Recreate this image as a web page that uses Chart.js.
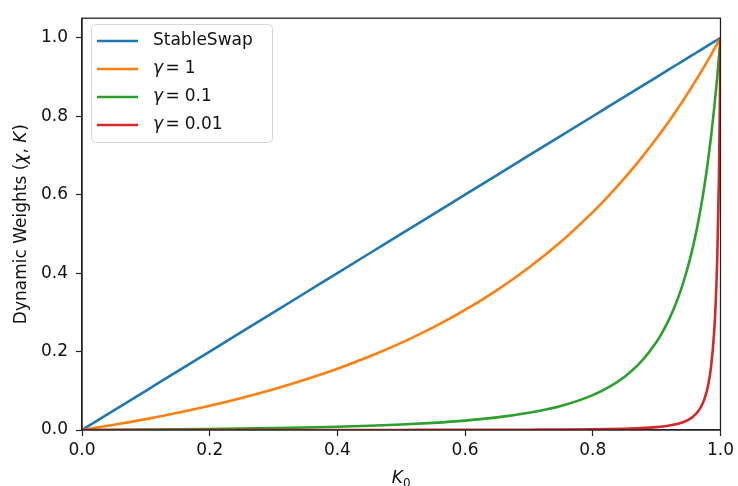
<!DOCTYPE html>
<html>
<head>
<meta charset="utf-8">
<script src="https://cdn.jsdelivr.net/npm/chart.js@4.4.1/dist/chart.umd.min.js"></script>
<style>
  html, body { margin: 0; padding: 0; background: #ffffff; }
  #wrap { width: 738px; height: 486px; }
</style>
</head>
<body>
<div id="wrap"><canvas id="c" width="738" height="486"></canvas></div>
<script>
// K0 sample positions (denser near 1 where the curves turn up sharply)
const k0 = [0, 0.05, 0.1, 0.15, 0.2, 0.25, 0.3, 0.35, 0.4, 0.45, 0.5, 0.55, 0.6, 0.65, 0.7, 0.75,
            0.8, 0.825, 0.85, 0.875, 0.9, 0.91, 0.92, 0.93, 0.94, 0.945, 0.95, 0.955, 0.96, 0.965,
            0.97, 0.975, 0.98, 0.985, 0.99, 0.9925, 0.995, 0.9975, 0.999, 1.0];

// Dynamic weight values for each curve
const stableSwap = [0, 0.05, 0.1, 0.15, 0.2, 0.25, 0.3, 0.35, 0.4, 0.45, 0.5, 0.55, 0.6, 0.65, 0.7, 0.75,
                    0.8, 0.825, 0.85, 0.875, 0.9, 0.91, 0.92, 0.93, 0.94, 0.945, 0.95, 0.955, 0.96, 0.965,
                    0.97, 0.975, 0.98, 0.985, 0.99, 0.9925, 0.995, 0.9975, 0.999, 1.0];
const gamma1 = [0, 0.0132, 0.0277, 0.0438, 0.0617, 0.0816, 0.1038, 0.1286, 0.1563, 0.1873, 0.2222,
                0.2616, 0.3061, 0.3567, 0.4142, 0.48, 0.5556, 0.5976, 0.6427, 0.6914, 0.7438, 0.7659,
                0.7888, 0.8123, 0.8366, 0.849, 0.8617, 0.8745, 0.8876, 0.9008, 0.9143, 0.928, 0.9419,
                0.9561, 0.9705, 0.9778, 0.9851, 0.9925, 0.997, 1.0];
const gamma01 = [0, 0.00045, 0.001, 0.00166, 0.00247, 0.00346, 0.00469, 0.00622, 0.00816, 0.01065,
                 0.01389, 0.01818, 0.024, 0.0321, 0.04375, 0.0612, 0.0889, 0.1091, 0.136, 0.1728, 0.225,
                 0.2521, 0.284, 0.3218, 0.367, 0.3933, 0.4222, 0.4542, 0.4898, 0.5295, 0.574, 0.624,
                 0.6806, 0.7448, 0.8182, 0.8588, 0.9025, 0.9494, 0.9793, 1.0];
const gamma001 = [0, 0.000005, 0.000012, 0.00002, 0.00003, 0.000043, 0.00006, 0.00008, 0.00011, 0.00014,
                  0.00019, 0.00026, 0.00036, 0.0005, 0.00073, 0.00111, 0.00181, 0.00241, 0.00332, 0.0048,
                  0.00744, 0.0091, 0.0114, 0.01453, 0.0192, 0.02237, 0.0264, 0.03157, 0.0384, 0.0477,
                  0.0606, 0.0796, 0.1089, 0.1576, 0.2475, 0.3241, 0.4422, 0.6384, 0.8256, 1.0];

const seriesNames = ['StableSwap', '1', '0.1', '0.01'];
const seriesColors = ['#1f77b4', '#ff7f0e', '#2ca02c', '#d62728'];
const seriesValues = [stableSwap, gamma1, gamma01, gamma001];

const xTicks = [0, 0.2, 0.4, 0.6, 0.8, 1.0];
const yTicks = [0, 0.2, 0.4, 0.6, 0.8, 1.0];

const FONT = '"DejaVu Sans", sans-serif';
const FS = 17;

const datasets = seriesValues.map((vals, i) => ({
  label: seriesNames[i],
  data: vals.map((v, j) => ({ x: k0[j], y: v })),
  borderColor: seriesColors[i],
  backgroundColor: seriesColors[i],
  borderWidth: 2.6,
  pointRadius: 0,
  cubicInterpolationMode: 'monotone',
  fill: false,
  order: seriesValues.length - i
}));

// Draws a run of text pieces, each with its own font, starting at x
function drawPieces(ctx, pieces, x, y) {
  let cx = x;
  pieces.forEach(p => {
    ctx.font = p.font;
    ctx.fillText(p.text, cx, y + (p.dy || 0));
    cx += ctx.measureText(p.text).width + (p.gap || 0);
  });
  return cx;
}
function piecesWidth(ctx, pieces) {
  let w = 0;
  pieces.forEach(p => { ctx.font = p.font; w += ctx.measureText(p.text).width + (p.gap || 0); });
  return w;
}

const decorations = {
  id: 'decorations',
  afterDatasetsDraw(chart) {
    const ctx = chart.ctx;
    const a = chart.chartArea;
    ctx.save();
    // axes frame
    ctx.strokeStyle = '#222222';
    ctx.lineWidth = 1.3;
    ctx.strokeRect(a.left, a.top, a.right - a.left, a.bottom - a.top);

    const normal = FS + 'px ' + FONT;
    const italic = 'italic ' + FS + 'px ' + FONT;
    ctx.fillStyle = '#111111';
    ctx.textBaseline = 'alphabetic';

    // x axis title: K0
    const xt = [
      { text: 'K', font: italic },
      { text: '0', font: '12px ' + FONT, dy: 4 }
    ];
    const xw = piecesWidth(ctx, xt);
    drawPieces(ctx, xt, (a.left + a.right) / 2 - xw / 2, 483);

    // y axis title: Dynamic Weights (χ, K)
    const yt = [
      { text: 'Dynamic Weights ', font: normal },
      { text: '(', font: normal },
      { text: 'χ', font: italic },
      { text: ', ', font: normal },
      { text: 'K', font: italic, gap: 1 },
      { text: ')', font: normal }
    ];
    ctx.save();
    ctx.translate(26, (a.top + a.bottom) / 2);
    ctx.rotate(-Math.PI / 2);
    const yw = piecesWidth(ctx, yt);
    drawPieces(ctx, yt, -yw / 2, 0);
    ctx.restore();

    // legend box
    const lx = 91.5, ly = 24.5, lw = 181, lh = 118, r = 4;
    ctx.beginPath();
    ctx.moveTo(lx + r, ly);
    ctx.arcTo(lx + lw, ly, lx + lw, ly + lh, r);
    ctx.arcTo(lx + lw, ly + lh, lx, ly + lh, r);
    ctx.arcTo(lx, ly + lh, lx, ly, r);
    ctx.arcTo(lx, ly, lx + lw, ly, r);
    ctx.closePath();
    ctx.fillStyle = 'rgba(255,255,255,0.8)';
    ctx.fill();
    ctx.strokeStyle = '#d6d6d6';
    ctx.lineWidth = 1;
    ctx.stroke();

    const rowY = [41, 69, 97, 125];
    seriesNames.forEach((name, i) => {
      const y = rowY[i];
      ctx.strokeStyle = seriesColors[i];
      ctx.lineWidth = 2.6;
      ctx.beginPath();
      ctx.moveTo(97, y);
      ctx.lineTo(138, y);
      ctx.stroke();
      ctx.fillStyle = '#111111';
      ctx.textBaseline = 'middle';
      if (i === 0) {
        ctx.font = normal;
        ctx.fillText(name, 153, y);
      } else {
        drawPieces(ctx, [
          { text: 'γ', font: italic, gap: 2.5 },
          { text: '=', font: normal, gap: 5 },
          { text: name, font: normal }
        ], 153, y);
      }
    });
    ctx.restore();
  }
};

new Chart(document.getElementById('c'), {
  type: 'line',
  data: { datasets },
  options: {
    responsive: false,
    animation: false,
    devicePixelRatio: 1,
    layout: { padding: { left: 0, right: 16, top: 15, bottom: 0 } },
    plugins: {
      legend: { display: false },
      tooltip: { enabled: false },
      title: { display: false }
    },
    scales: {
      x: {
        type: 'linear',
        min: 0,
        max: 1,
        afterBuildTicks: s => { s.ticks = xTicks.map(v => ({ value: v })); },
        afterFit: s => { s.height = 56; },
        ticks: {
          callback: v => v.toFixed(1),
          font: { family: FONT, size: FS },
          color: '#111111',
          padding: 4,
          maxRotation: 0
        },
        grid: { drawOnChartArea: false, drawTicks: true, tickLength: 6, tickColor: '#222222', tickWidth: 1.2 },
        border: { display: true, color: '#222222', width: 1.3 }
      },
      y: {
        type: 'linear',
        min: 0,
        max: 1.05,
        afterBuildTicks: s => { s.ticks = yTicks.map(v => ({ value: v })); },
        afterFit: s => { s.width = 82; },
        ticks: {
          callback: v => v.toFixed(1),
          font: { family: FONT, size: FS },
          color: '#111111',
          padding: 8
        },
        grid: { drawOnChartArea: false, drawTicks: true, tickLength: 6, tickColor: '#222222', tickWidth: 1.2 },
        border: { display: true, color: '#222222', width: 1.3 }
      }
    }
  },
  plugins: [decorations]
});
</script>
</body>
</html>
